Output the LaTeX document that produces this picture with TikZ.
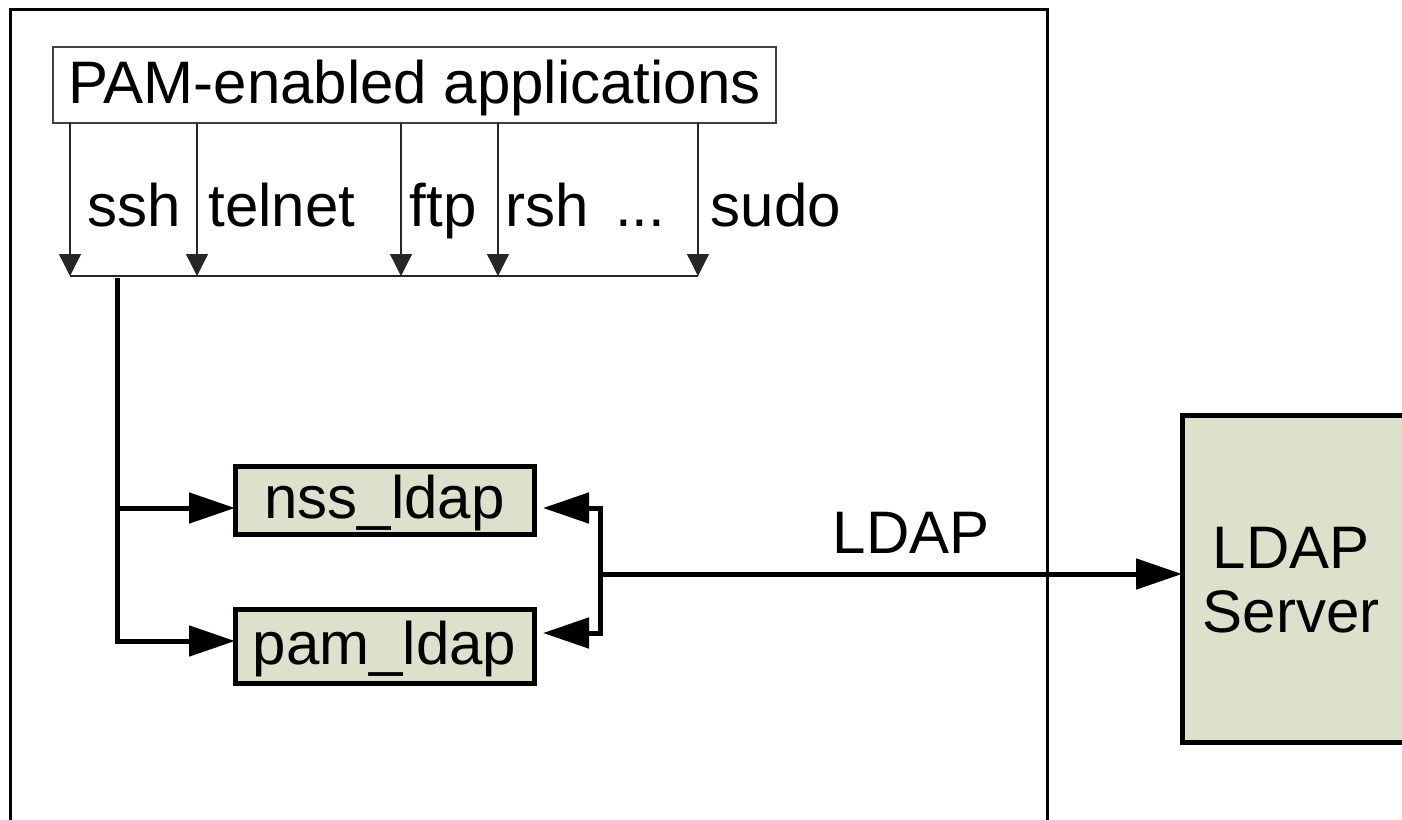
\documentclass[tikz,border=0pt]{standalone}
\usepackage{fontspec}
\setmainfont{Liberation Sans}
\usetikzlibrary{arrows.meta}
\definecolor{modfill}{RGB}{221,224,203}
\begin{document}
\begin{tikzpicture}[x=1pt,y=-1pt,
  bigfont/.style={font=\fontsize{60}{64}\selectfont},
  lbl/.style={bigfont, inner sep=0pt, outer sep=0pt},
  hostframe/.style={draw, line width=3pt, inner sep=0pt, outer sep=0pt},
  appbox/.style={bigfont, draw=black!75, line width=1.3pt, inner sep=0pt, outer sep=0pt,
                 text height=37pt, text depth=0pt},
  modbox/.style={bigfont, draw, line width=5pt, fill=modfill, inner sep=0pt, outer sep=0pt,
                 text height=37pt, text depth=0pt},
  feed/.style={line width=1.3pt, draw=black!85, -{Triangle[length=22pt,width=22pt]}},
  busline/.style={line width=1.3pt, draw=black!85},
  wire/.style={line width=5pt},
  link/.style={line width=5pt, -{Triangle[length=46pt,width=30pt]}}]
\useasboundingbox (0,0) rectangle (1402,819);
\clip (0,0) rectangle (1402,819);

% host machine frame (open at the bottom)
\node[hostframe, minimum width=1037pt, minimum height=900pt, anchor=north west] (host) at (10,9) {};

% applications
\node[appbox, minimum width=723pt, minimum height=76pt] (apps) at (414.5,85) {PAM-enabled applications};

% application names
\node[lbl, anchor=base] (ssh)    at (134.5,226) {ssh};
\node[lbl, anchor=base] (telnet) at (282,226)   {telnet};
\node[lbl, anchor=base] (ftp)    at (443,226)   {ftp};
\node[lbl, anchor=base] (rsh)    at (547,226)   {rsh};
\node[lbl, anchor=base] (more)   at (640,226)   {...};
\node[lbl, anchor=base] (sudo)   at (776,226)   {sudo};

% modules
\node[modbox, minimum width=299pt, minimum height=67.5pt] (nss)     at (384.5,500.25) {nss\_ldap};
\node[modbox, minimum width=299pt, minimum height=74pt]   (pamldap) at (384.5,646)    {pam\_ldap};

% server
\node[modbox, minimum width=300pt, minimum height=327pt, anchor=north west] (server) at (1182,415) {};
\node[lbl, align=center] (servertext) at (1291,580) {LDAP\\Server};

% protocol label
\node[lbl, anchor=base] (proto) at (911,553) {LDAP};

% bus below the applications
\coordinate (t1) at (70,276);
\coordinate (t2) at (197,276);
\coordinate (t3) at (401,276);
\coordinate (t4) at (498,276);
\coordinate (t5) at (698,276);
\foreach \t in {t1,t2,t3,t4,t5}
  \draw[feed] (apps.south -| \t) -- (\t);
\draw[busline] (t1) -- (t5);

% from the bus to the modules
\coordinate (tap) at (117,278);
\coordinate (n1) at (117,508);
\coordinate (p1) at (117,641);
\draw[link] (tap) |- (pamldap.west |- p1);
\draw[link] (n1) -- (nss.west |- n1);

% from the modules to the server
\coordinate (r1) at (600,508);
\coordinate (r2) at (600,633);
\coordinate (rm) at (600,574);
\draw[wire, line cap=rect] (r1) -- (r2);
\draw[link, shorten >=9pt] (r1) -- (nss.east |- r1);
\draw[link, shorten >=9pt] (r2) -- (pamldap.east |- r2);
\draw[link] (rm) -- (server.west |- rm);
\end{tikzpicture}
\end{document}
